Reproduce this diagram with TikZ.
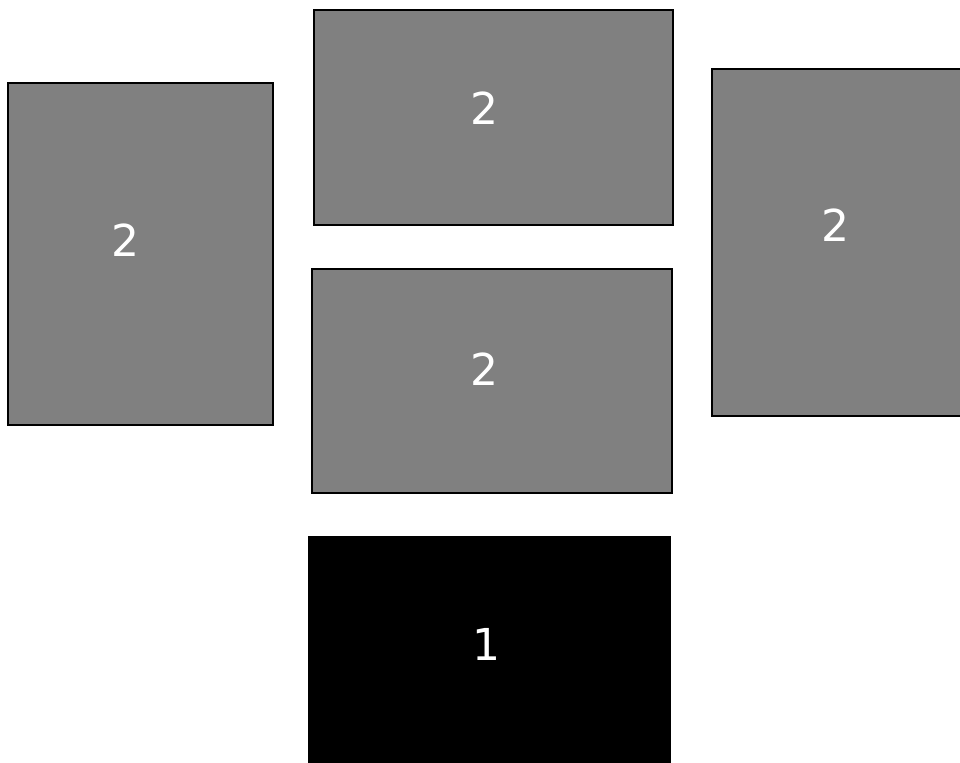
\documentclass[tikz,border=0pt]{standalone}
\usepackage{fontspec}
\setmainfont{DejaVu Sans}
\usepackage{xcolor}
\definecolor{boxgray}{RGB}{128,128,128}
\tikzset{
  graybox/.style={draw=black,fill=boxgray,line width=1.9pt},
  blackbox/.style={draw=black,fill=black,line width=1.9pt},
  digit/.style={text=white,anchor=base,inner sep=0pt,font=\fontsize{33}{40}\selectfont}
}
\begin{document}
\begin{tikzpicture}[x=0.75pt,y=-0.75pt]
\useasboundingbox (0,0) rectangle (960,763);
\clip (0,0) rectangle (960,763);
% boxes
\draw[graybox] (8,83) rectangle (273,425);
\draw[graybox] (314,10) rectangle (673,225);
\draw[graybox] (312,269) rectangle (672,493);
\draw[graybox] (712,69) rectangle (990,416);
\draw[blackbox] (309,537) rectangle (670,790);
% labels
\node[digit] (leftlbl) at (125,256) {2};
\node[digit] (toplbl) at (484,124.3) {2};
\node[digit] (midlbl) at (484.5,385.7) {2};
\node[digit] (rightlbl) at (835.5,241) {2};
\node[digit] (botlbl) at (486.5,660.7) {1};
\end{tikzpicture}
\end{document}
